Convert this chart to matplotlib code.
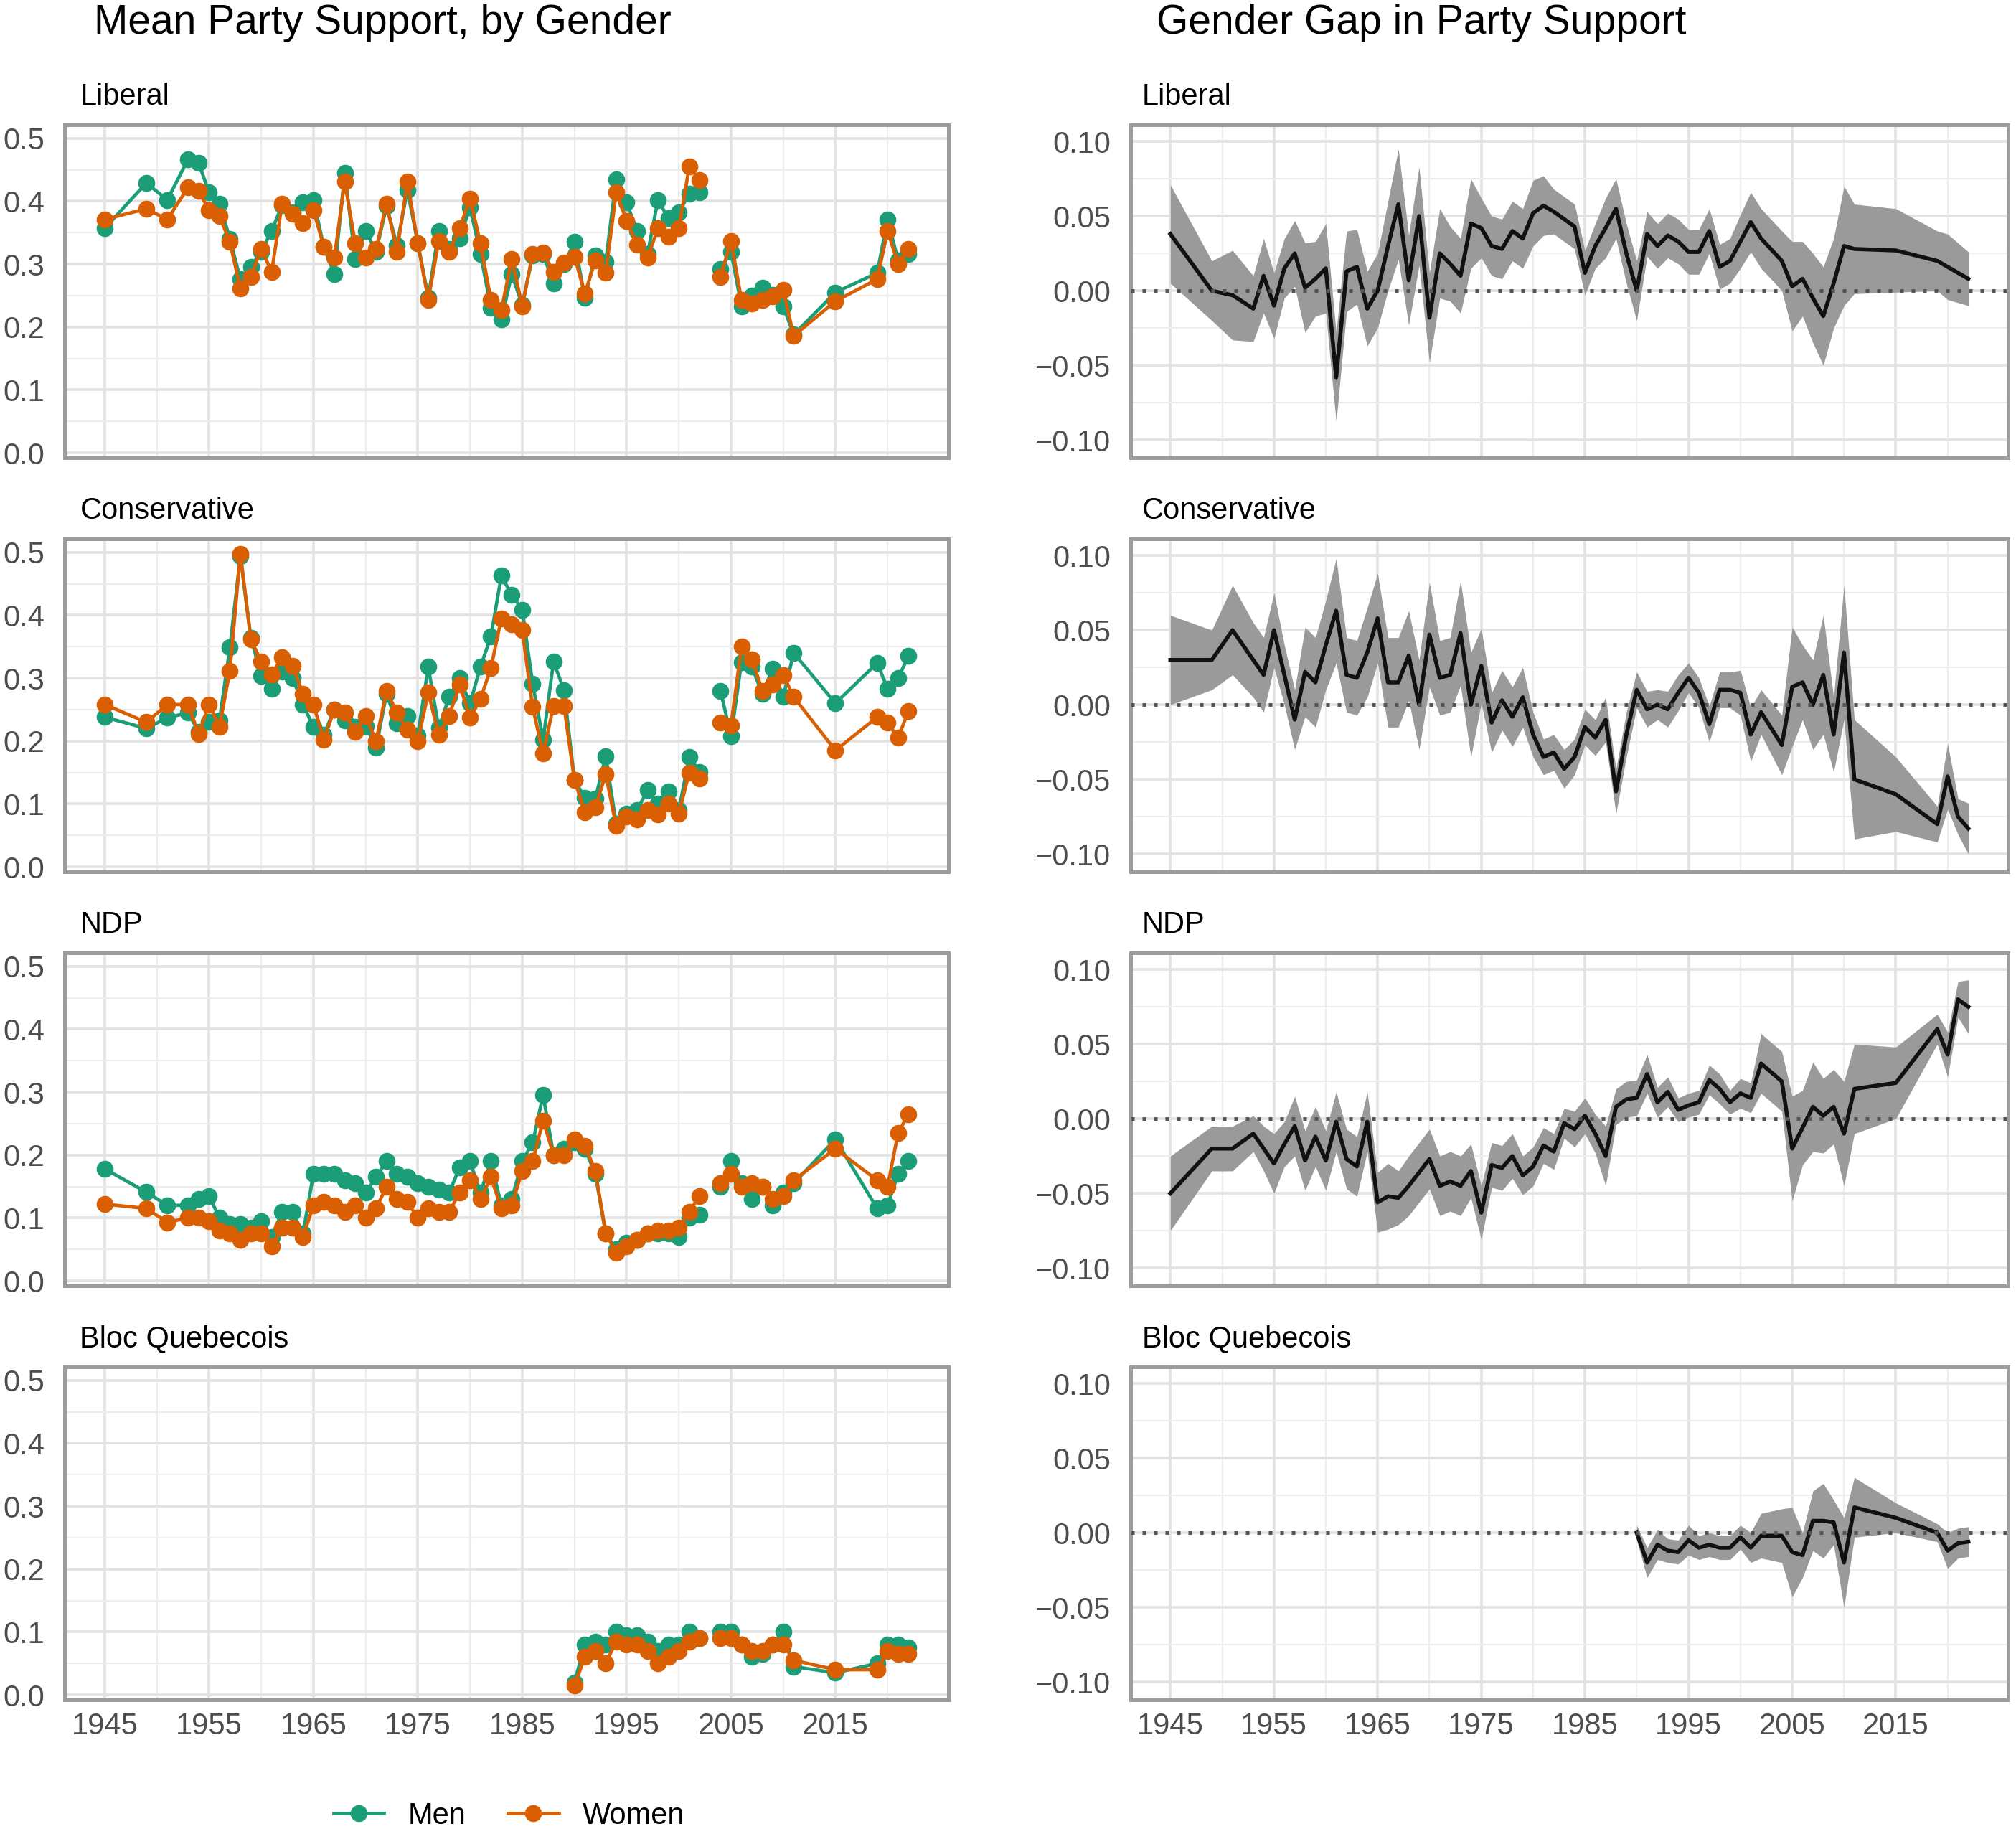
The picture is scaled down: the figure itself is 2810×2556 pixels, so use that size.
import matplotlib
matplotlib.use("Agg")
import matplotlib.pyplot as plt
import numpy as np
from matplotlib.ticker import FixedLocator, FuncFormatter
from matplotlib.lines import Line2D

plt.rcParams["font.family"] = ["Liberation Sans", "DejaVu Sans"]

nan = np.nan

years = [1945, 1949, 1951, 1953, 1954, 1955, 1956, 1957, 1958, 1959,
         1960, 1961, 1962, 1963, 1964, 1965, 1966, 1967, 1968, 1969,
         1970, 1971, 1972, 1973, 1974, 1975, 1976, 1977, 1978, 1979,
         1980, 1981, 1982, 1983, 1984, 1985, 1986, 1987, 1988, 1989,
         1990, 1991, 1992, 1993, 1994, 1995, 1996, 1997, 1998, 1999,
         2000, 2001, 2002, 2003, 2004, 2005, 2006, 2007, 2008, 2009,
         2010, 2011, 2015, 2019, 2020, 2021, 2022]

parties = ["Liberal", "Conservative", "NDP", "Bloc Quebecois"]

# mean support, men / women
lib_men = [.357, .429, .402, .467, .461, .414, .396, .340, .276, .296,
           .320, .353, .394, .382, .398, .402, .327, .284, .445, .308,
           .353, .320, .392, .330, .418, .333, .247, .353, .324, .341,
           .390, .316, .231, .212, .284, .235, .314, .316, .269, .300,
           .335, .247, .314, .304, .435, .398, .353, .316, .402, .373,
           .382, .412, .414, nan, .292, .320, .233, .250, .263, .251,
           .233, .188, .255, .286, .371, .306, .316]
lib_women = [.371, .388, .371, .422, .416, .386, .376, .335, .261, .280,
             .324, .288, .396, .380, .365, .386, .327, .310, .431, .333,
             .310, .324, .396, .320, .431, .333, .243, .337, .320, .357,
             .404, .333, .243, .227, .308, .233, .316, .318, .288, .302,
             .312, .253, .306, .286, .414, .369, .331, .310, .357, .343,
             .357, .455, .433, nan, .280, .337, .243, .237, .243, .249,
             .259, .186, .241, .276, .353, .300, .324]

con_men = [.238, .220, .237, .245, .215, .230, .233, .349, .494, .364,
           .304, .283, .310, .300, .258, .223, .210, .250, .233, .222,
           .224, .190, .275, .228, .240, .209, .318, .221, .270, .300,
           .260, .318, .366, .463, .432, .409, .291, .202, .326, .281,
           .138, .110, .108, .176, .068, .085, .090, .122, .100, .120,
           .090, .175, .151, nan, .279, .208, .325, .318, .275, .315,
           .270, .340, .260, .324, .283, .300, .335]
con_women = [.258, .230, .258, .258, .211, .258, .223, .312, .498, .362,
             .326, .306, .333, .320, .275, .258, .202, .250, .245, .215,
             .240, .200, .280, .245, .218, .200, .277, .210, .240, .290,
             .237, .267, .316, .395, .386, .376, .254, .180, .256, .256,
             .138, .087, .095, .147, .065, .080, .075, .090, .083, .100,
             .085, .150, .140, nan, .229, .225, .350, .330, .280, .290,
             .305, .270, .185, .238, .229, .205, .248]

ndp_men = [.178, .141, .120, .120, .130, .135, .100, .090, .090, .085,
           .095, .070, .110, .110, .075, .170, .170, .170, .160, .155,
           .140, .165, .190, .170, .165, .155, .150, .145, .140, .180,
           .190, .140, .190, .120, .130, .190, .220, .295, .200, .210,
           .220, .210, .170, .075, .050, .060, .065, .075, .075, .075,
           .070, .100, .105, nan, .150, .190, .155, .130, .150, .120,
           .140, .155, .225, .115, .120, .170, .190]
ndp_women = [.122, .115, .093, .100, .100, .095, .080, .075, .065, .075,
             .075, .055, .085, .085, .070, .120, .125, .120, .110, .120,
             .100, .115, .150, .130, .125, .100, .115, .110, .110, .140,
             .160, .130, .165, .115, .120, .175, .190, .255, .200, .200,
             .225, .215, .175, .075, .045, .055, .065, .075, .080, .080,
             .085, .110, .135, nan, .155, .170, .150, .155, .150, .130,
             .135, .160, .210, .160, .150, .235, .265]

bq_men = [nan] * 40 + [.020, .080, .085, .080, .100, .095, .095, .085, .070, .080,
                       .080, .100, .090, nan, .100, .100, .080, .060, .065, .080,
                       .100, .045, .035, .050, .080, .080, .075]
bq_women = [nan] * 40 + [.015, .060, .070, .050, .085, .080, .080, .070, .050, .060,
                         .070, .085, .090, nan, .090, .090, .080, .070, .070, .080,
                         .080, .055, .040, .040, .070, .065, .065]

# gender gap estimates and 95% half-widths
lib_gap = [.038, .000, -.003, -.012, .010, -.010, .015, .025, .002, .008,
           .015, -.058, .013, .016, -.012, .000, .030, .058, .007, .050,
           -.018, .025, .018, .010, .045, .042, .030, .028, .040, .035,
           .052, .057, .053, .048, .043, .012, .030, .042, .055, .025,
           .000, .038, .030, .037, .033, .026, .026, .040, .016, .020,
           .033, .046, .035, nan, .020, .003, .008, -.005, -.017, .005,
           .030, .028, .027, .020, .016, .012, .008]
lib_ci = [.033, .020, .030, .022, .025, .022, .020, .022, .030, .025,
          .030, .030, .027, .025, .025, .025, .030, .037, .030, .033,
          .030, .030, .025, .025, .030, .020, .020, .020, .020, .020,
          .022, .020, .015, .015, .015, .015, .015, .020, .020, .020,
          .020, .015, .015, .015, .015, .015, .015, .015, .015, .015,
          .018, .020, .020, nan, .020, .030, .025, .030, .033, .030,
          .040, .030, .028, .020, .022, .020, .018]

con_gap = [.030, .030, .050, .030, .020, .050, .020, -.010, .022, .015,
           .040, .063, .020, .018, .035, .058, .015, .015, .033, .000,
           .047, .018, .020, .048, .000, .026, -.012, .003, -.008, .005,
           -.020, -.035, -.032, -.043, -.035, -.015, -.022, -.010, -.058, -.020,
           .010, -.003, .000, -.003, .008, .018, .008, -.013, .010, .010,
           .008, -.020, -.005, nan, -.027, .012, .015, .000, .020, -.020,
           .035, -.050, -.060, -.080, -.048, -.075, -.083]
con_ci = [.030, .020, .030, .025, .025, .025, .020, .020, .030, .030,
          .030, .035, .025, .025, .030, .030, .030, .030, .030, .030,
          .035, .025, .025, .035, .035, .025, .020, .020, .020, .020,
          .015, .012, .012, .013, .012, .012, .012, .015, .015, .015,
          .012, .012, .010, .012, .012, .010, .010, .012, .012, .012,
          .015, .018, .015, nan, .020, .040, .025, .030, .040, .025,
          .045, .040, .025, .012, .022, .012, .017]

ndp_gap = [-.050, -.020, -.020, -.010, -.020, -.030, -.017, -.005, -.028, -.012,
           -.028, -.002, -.027, -.032, -.002, -.056, -.052, -.053, -.045, -.036,
           -.027, -.045, -.042, -.045, -.035, -.063, -.031, -.033, -.025, -.038,
           -.032, -.018, -.022, -.003, -.007, .002, -.010, -.025, .008, .013,
           .014, .030, .011, .018, .006, .009, .011, .026, .020, .011,
           .017, .014, .037, nan, .025, -.020, -.006, .008, .002, .008,
           -.010, .020, .024, .060, .043, .080, .075]
ndp_ci = [.025, .015, .015, .012, .015, .020, .015, .020, .020, .020,
          .020, .020, .020, .020, .020, .020, .022, .018, .020, .020,
          .020, .020, .020, .020, .018, .018, .015, .015, .015, .013,
          .013, .012, .012, .010, .012, .012, .013, .020, .012, .012,
          .012, .013, .010, .010, .008, .008, .008, .010, .010, .008,
          .010, .010, .020, nan, .020, .035, .025, .030, .025, .025,
          .035, .030, .024, .010, .015, .012, .018]

bq_gap = [nan] * 40 + [.000, -.020, -.008, -.012, -.013, -.005, -.010, -.008, -.010, -.010,
                       -.003, -.010, -.002, nan, -.002, -.013, -.015, .008, .008, .007,
                       -.020, .017, .010, .000, -.012, -.007, -.006]
bq_ci = [nan] * 40 + [.005, .010, .010, .008, .008, .010, .008, .008, .008, .008,
                      .008, .010, .015, nan, .018, .030, .015, .020, .025, .015,
                      .030, .020, .010, .006, .012, .010, .010]

men = [lib_men, con_men, ndp_men, bq_men]
women = [lib_women, con_women, ndp_women, bq_women]
gaps = [lib_gap, con_gap, ndp_gap, bq_gap]
cis = [lib_ci, con_ci, ndp_ci, bq_ci]

MEN_C = "#1B9E77"
WOMEN_C = "#D95F02"

fig = plt.figure(figsize=(14.05, 12.78), dpi=200)

W, H = 1564.0, 1422.0
panel_tops = [97, 418, 739, 1060]
panel_h = 258
left_x = (50, 736)
right_x = (877, 1558)

x = np.array(years, dtype=float)
xmajor = [1945, 1955, 1965, 1975, 1985, 1995, 2005, 2015]
xminor = [1950, 1960, 1970, 1980, 1990, 2000, 2010, 2020]


def style_axes(ax, ymajor, yminor, fmt, show_x):
    ax.set_xlim(1941.15, 2025.85)
    ax.xaxis.set_major_locator(FixedLocator(xmajor))
    ax.xaxis.set_minor_locator(FixedLocator(xminor))
    ax.yaxis.set_major_locator(FixedLocator(ymajor))
    ax.yaxis.set_minor_locator(FixedLocator(yminor))
    ax.yaxis.set_major_formatter(FuncFormatter(lambda v, p: (fmt % v).replace("-", "\u2212")))
    ax.grid(which="major", color="#e2e2e2", lw=1.3, zorder=0)
    ax.grid(which="minor", color="#ededed", lw=0.8, zorder=0)
    ax.set_axisbelow(True)
    for s in ax.spines.values():
        s.set_color("#9c9c9c")
        s.set_linewidth(1.8)
    ax.tick_params(which="both", length=0, labelsize=15, labelcolor="#4d4d4d", pad=6)
    ax.tick_params(axis="y", pad=10)
    if not show_x:
        ax.tick_params(axis="x", labelbottom=False)


for i, party in enumerate(parties):
    bottom = 1 - (panel_tops[i] + panel_h) / H
    h = panel_h / H

    # left: mean support by gender
    ax = fig.add_axes([left_x[0] / W, bottom, (left_x[1] - left_x[0]) / W, h])
    ax.plot(x, men[i], color=MEN_C, lw=1.7, marker="o", ms=7.5, zorder=3)
    ax.plot(x, women[i], color=WOMEN_C, lw=1.7, marker="o", ms=7.5, zorder=4)
    ax.set_ylim(-0.008, 0.521)
    style_axes(ax, [0, .1, .2, .3, .4, .5], [.05, .15, .25, .35, .45], "%.1f", i == 3)
    ax.text(0.0175, 1.085, party, transform=ax.transAxes, fontsize=15, va="center", ha="left")

    # right: gender gap with ribbon
    ax2 = fig.add_axes([right_x[0] / W, bottom, (right_x[1] - right_x[0]) / W, h])
    g = np.array(gaps[i], dtype=float)
    c = np.array(cis[i], dtype=float)
    ok = np.isfinite(g)
    ax2.fill_between(x[ok], g[ok] - c[ok], g[ok] + c[ok], color="#9a9a9a", lw=0, zorder=2)
    ax2.plot(x[ok], g[ok], color="#111111", lw=2.0, zorder=3)
    ax2.axhline(0, color="#555555", lw=1.8, ls=(0, (1, 2.2)), zorder=4)
    ax2.set_ylim(-0.112, 0.111)
    style_axes(ax2, [-.1, -.05, 0, .05, .1], [-.075, -.025, .025, .075], "%.2f", i == 3)
    ax2.text(0.013, 1.085, party, transform=ax2.transAxes, fontsize=15, va="center", ha="left")

fig.text(73 / W, 1 - 18 / H, "Mean Party Support, by Gender", fontsize=20.5, va="center", ha="left")
fig.text(897 / W, 1 - 18 / H, "Gender Gap in Party Support", fontsize=20.5, va="center", ha="left")

handles = [Line2D([], [], color=MEN_C, lw=1.7, marker="o", ms=7.5),
           Line2D([], [], color=WOMEN_C, lw=1.7, marker="o", ms=7.5)]
fig.legend(handles, ["Men", "Women"], loc="center", bbox_to_anchor=(395 / W, 1 - 1408 / H),
           ncol=2, frameon=False, fontsize=15, handlelength=1.7, columnspacing=1.4)

fig.savefig("out.png", dpi=200, facecolor="white")
